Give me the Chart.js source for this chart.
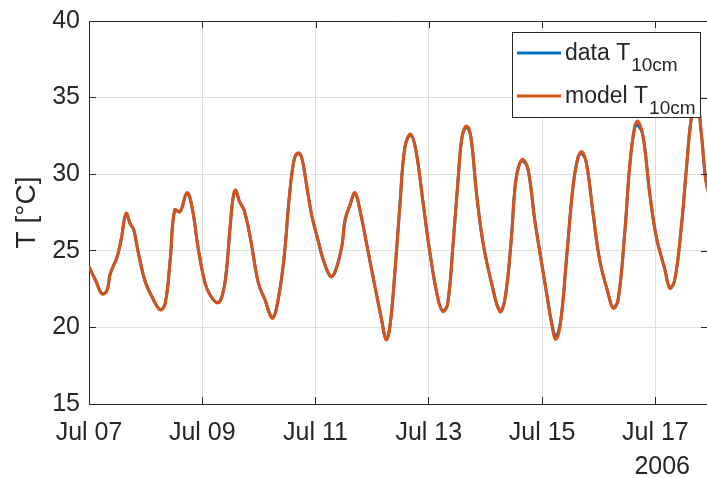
<!DOCTYPE html>
<html>
<head>
<meta charset="utf-8">
<title>Soil temperature at 10 cm</title>
<script src="https://cdn.jsdelivr.net/npm/chart.js@4"></script>
<style>
  html, body { margin: 0; padding: 0; background: #fff; overflow: hidden; }
  #wrap { width: 712px; height: 478px; }
  canvas { display: block; }
</style>
</head>
<body>
<div id="wrap"><canvas id="c" width="712" height="478"></canvas></div>
<script>
// Hours since 2006-07-07 00:00
const hours = [
  0, 2.7, 5.5, 7.6, 9, 11.9, 13.7, 15.7, 17.5, 18.9, 21, 23.8, 26.7, 30.2, 32.3, 34.4,
  36.3, 38.6, 41.5, 43.6, 46.4, 49.2, 51.4, 54.4, 56.3, 58.1, 59.8, 61.2, 62.2, 63.8,
  65.7, 68.3, 71.8, 74.6, 77.5, 79.3, 82.4, 84.9, 86.9, 88.7, 90.2, 92.3, 94.4, 97.2,
  99.3, 102.4, 104.3, 107.1, 108.5, 110.6, 112.7, 114.8, 118.4, 121.9, 124, 125.9,
  127.5, 129.7, 131.8, 133.9, 136.3, 138.5, 141.6, 144.5, 148, 150.1, 152, 154.3,
  156.5, 158.1, 160, 161.8, 164.2, 167, 170.6, 174.1, 176.2, 178.8, 180.7, 182.5,
  184, 186.1, 188.9, 191.8, 193.9, 196, 197.8, 199.8, 202.3, 205.1, 207.3, 208.9,
  210.8, 213.6, 216.4, 220, 222.1, 224.2, 227, 229.1, 231.2, 232.6, 234.8, 237.6,
  240.4, 244, 246.1, 248.2, 251, 253.1, 255.3, 257.5, 259.5, 261.2, 262.5
];

// Modelled temperature at 10 cm depth [°C]
const modelT = [
  23.96, 23.1, 22.18, 22.4, 23.5, 24.6, 25.8, 27.45, 26.75, 26.4, 24.8, 23.0, 22.0, 21.14, 21.57, 24.4,
  27.66, 27.55, 28.8, 27.9, 25.05, 22.88, 22.1, 21.6, 22.0, 23.5, 26.57, 28.64, 28.97, 28.2,
  27.66, 25.9, 22.88, 21.79, 20.6, 21.14, 24.18, 28.53, 30.93, 31.4, 31.04, 29.18, 27.3, 25.6,
  24.4, 23.31, 23.64, 25.27, 27.0, 27.99, 28.8, 27.66, 24.84, 22.1, 20.5, 19.18,
  20.05, 23.75, 28.1, 31.8, 32.62, 31.58, 28.1, 24.84, 21.79, 21.02, 21.57, 25.49,
  29.84, 32.45, 33.15, 32.45, 28.75, 25.49, 22.88, 21.02, 21.79, 25.49, 29.41, 30.71,
  30.97, 30.27, 27.0, 24.2, 22.25, 20.27, 19.22, 20.27, 24.4, 29.18, 31.14, 31.47,
  30.7, 27.45, 24.4, 22.22, 21.25, 21.79, 26.14, 30.49, 33.1, 33.45, 32.45, 28.75,
  25.9, 23.8, 22.55, 23.09, 26.57, 30.27, 33.75, 35.0, 32.6, 29.8, 28.8
];

// Measured temperature at 10 cm depth [°C]
const dataT = [
  23.96, 23.1, 22.2, 22.4, 23.5, 24.6, 25.8, 27.4, 26.75, 26.4, 24.8, 23.0, 22.0, 21.16, 21.57, 24.4,
  27.66, 27.55, 28.75, 27.9, 25.05, 22.88, 22.1, 21.62, 22.0, 23.5, 26.57, 28.6, 28.9, 28.2,
  27.66, 25.9, 22.88, 21.79, 20.65, 21.14, 24.18, 28.53, 30.93, 31.35, 31.04, 29.18, 27.3, 25.6,
  24.4, 23.33, 23.64, 25.27, 27.0, 27.99, 28.75, 27.66, 24.84, 22.1, 20.5, 19.25,
  20.05, 23.75, 28.1, 31.8, 32.55, 31.58, 28.1, 24.84, 21.79, 21.08, 21.57, 25.49,
  29.84, 32.45, 33.05, 32.45, 28.75, 25.49, 22.88, 21.08, 21.79, 25.49, 29.41, 30.71,
  30.85, 30.27, 27.0, 24.2, 22.25, 20.35, 19.45, 20.35, 24.4, 29.18, 31.14, 31.35,
  30.7, 27.45, 24.4, 22.22, 21.3, 21.79, 26.14, 30.49, 33.0, 33.2, 32.45, 28.75,
  25.9, 23.8, 22.6, 23.09, 26.57, 30.27, 33.75, 34.9, 32.6, 29.8, 28.8
];

// Axis ticks
const xTickHours = [0, 48, 96, 144, 192, 240];
const xTickLabels = ['Jul 07', 'Jul 09', 'Jul 11', 'Jul 13', 'Jul 15', 'Jul 17'];
const yTicks = [15, 20, 25, 30, 35, 40];

const FONT = "'Liberation Sans', Arial, Helvetica, sans-serif";
const AXIS_COLOR = '#262626';
const GRID_COLOR = '#dedede';
const BLUE = '#0072BD';
const ORANGE = '#D95319';
const TICK_IN = 7;

// Box frame: top/right axis lines with inward ticks, year label and legend
const framePlugin = {
  id: 'frame',
  afterDraw(chart) {
    const { ctx, chartArea: a, scales } = chart;
    ctx.save();
    ctx.strokeStyle = AXIS_COLOR;
    ctx.lineWidth = 1;
    ctx.beginPath();
    ctx.moveTo(a.left, a.top + 0.5);
    ctx.lineTo(a.right, a.top + 0.5);
    ctx.moveTo(a.right - 0.5, a.top);
    ctx.lineTo(a.right - 0.5, a.bottom);
    xTickHours.forEach(h => {
      const px = Math.round(scales.x.getPixelForValue(h)) + 0.5;
      ctx.moveTo(px, a.top);
      ctx.lineTo(px, a.top + TICK_IN);
    });
    yTicks.forEach(v => {
      const py = Math.round(scales.y.getPixelForValue(v)) + 0.5;
      ctx.moveTo(a.right, py);
      ctx.lineTo(a.right - TICK_IN, py);
    });
    ctx.stroke();

    // year under the last date label
    ctx.fillStyle = AXIS_COLOR;
    ctx.font = '25px ' + FONT;
    ctx.textAlign = 'right';
    ctx.textBaseline = 'alphabetic';
    ctx.fillText('2006', 690, 474);

    // legend with subscripted labels
    const bx = 512.5, by = 32.5, bw = 188, bh = 85;
    ctx.fillStyle = '#ffffff';
    ctx.fillRect(bx, by, bw, bh);
    ctx.strokeStyle = AXIS_COLOR;
    ctx.lineWidth = 1;
    ctx.strokeRect(bx, by, bw, bh);
    const entries = [
      { color: BLUE, label: 'data T', y: 53 },
      { color: ORANGE, label: 'model T', y: 96 }
    ];
    entries.forEach(e => {
      ctx.strokeStyle = e.color;
      ctx.lineWidth = 3;
      ctx.beginPath();
      ctx.moveTo(517, e.y);
      ctx.lineTo(561, e.y);
      ctx.stroke();
      ctx.fillStyle = AXIS_COLOR;
      ctx.textAlign = 'left';
      ctx.font = '23px ' + FONT;
      ctx.fillText(e.label, 565, e.y + 7);
      const w = ctx.measureText(e.label).width;
      ctx.font = '19px ' + FONT;
      ctx.fillText('10cm', 565 + w + 1, e.y + 18);
    });
    ctx.restore();
  }
};

new Chart(document.getElementById('c'), {
  type: 'line',
  data: {
    datasets: [
      {
        label: 'data T10cm',
        data: hours.map((h, i) => ({ x: h, y: dataT[i] })),
        borderColor: BLUE,
        borderWidth: 3,
        pointRadius: 0,
        tension: 0.4,
        order: 1
      },
      {
        label: 'model T10cm',
        data: hours.map((h, i) => ({ x: h, y: modelT[i] })),
        borderColor: ORANGE,
        borderWidth: 3,
        pointRadius: 0,
        tension: 0.4,
        order: 0
      }
    ]
  },
  options: {
    responsive: false,
    animation: false,
    events: [],
    layout: { padding: { top: 21, right: 4, left: 0, bottom: 0 } },
    plugins: { legend: { display: false }, tooltip: { enabled: false } },
    scales: {
      x: {
        type: 'linear',
        min: 0,
        max: 262.3,
        afterBuildTicks: s => { s.ticks = xTickHours.map(v => ({ value: v })); },
        afterFit: s => { s.height = 74; s.paddingLeft = 0; s.paddingRight = 0; },
        ticks: {
          autoSkip: false,
          maxRotation: 0,
          padding: 21,
          color: AXIS_COLOR,
          font: { family: FONT, size: 25 },
          callback: v => xTickLabels[xTickHours.indexOf(v)]
        },
        grid: { color: GRID_COLOR, tickColor: AXIS_COLOR, tickLength: -TICK_IN, lineWidth: 1 },
        border: { color: AXIS_COLOR, width: 1 }
      },
      y: {
        min: 15,
        max: 40,
        afterBuildTicks: s => { s.ticks = yTicks.map(v => ({ value: v })); },
        afterFit: s => { s.width = 89; s.paddingTop = 0; s.paddingBottom = 0; },
        ticks: {
          padding: 16,
          color: AXIS_COLOR,
          font: { family: FONT, size: 25 }
        },
        grid: { color: GRID_COLOR, tickColor: AXIS_COLOR, tickLength: -TICK_IN, lineWidth: 1 },
        border: { color: AXIS_COLOR, width: 1 },
        title: {
          display: true,
          text: 'T [°C]',
          color: AXIS_COLOR,
          font: { family: FONT, size: 28 },
          padding: { top: 10, bottom: 0 }
        }
      }
    }
  },
  plugins: [framePlugin]
});
</script>
</body>
</html>
